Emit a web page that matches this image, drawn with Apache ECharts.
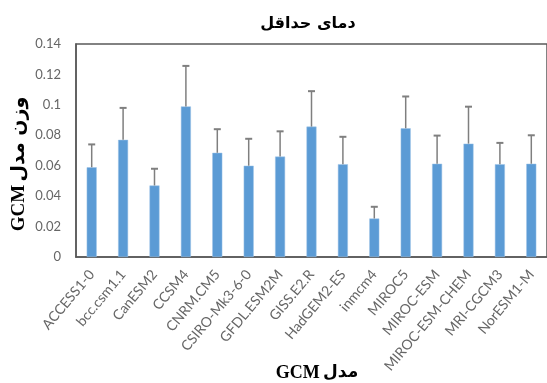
<!DOCTYPE html>
<html><head><meta charset="utf-8">
<script src="https://cdn.jsdelivr.net/npm/echarts@6/dist/echarts.min.js"></script>
<style>html,body{margin:0;padding:0;background:#fff}#c{width:547px;height:383px}</style>
</head><body><div id="c"></div>
<script>
const categories = ['ACCESS1-0','bcc.csm1.1','CanESM2','CCSM4','CNRM.CM5','CSIRO-Mk3-6-0','GFDL.ESM2M','GISS.E2.R','HadGEM2-ES','inmcm4','MIROC5','MIROC-ESM','MIROC-ESM-CHEM','MRI-CGCM3','NorESM1-M'];
const weights = [0.059,0.077,0.047,0.099,0.0685,0.060,0.066,0.0857,0.061,0.0253,0.0846,0.0613,0.0745,0.061,0.0613];
const errors = [0.015,0.021,0.011,0.0266,0.0155,0.0177,0.0166,0.0233,0.018,0.0077,0.0209,0.0185,0.0243,0.014,0.0187];
const yTicks = [0,0.02,0.04,0.06,0.08,0.1,0.12,0.14];
const titleText = 'دمای حداقل';
const yName = ['GCM','وزن مدل'];
const xName = ['GCM','مدل'];

const chart = echarts.init(document.getElementById('c'));
const errData = weights.map((v,i)=>[i, v, v+errors[i]]);
const richY = {s:{fontFamily:'Liberation Serif',fontWeight:'bold',fontSize:19,color:'#000'},p:{fontFamily:'DejaVu Sans',fontWeight:'bold',fontSize:19,color:'#000'}};
const richX = {s:{fontFamily:'Liberation Serif',fontWeight:'bold',fontSize:18,color:'#000'},p:{fontFamily:'DejaVu Sans',fontWeight:'bold',fontSize:17,color:'#000'}};
chart.setOption({
  animation:false,
  title:{text:titleText,left:303,top:11,textAlign:'center',textStyle:{fontFamily:'DejaVu Sans',fontWeight:'bold',fontSize:16,color:'#000'}},
  grid:{left:76,top:44,right:0,bottom:126,show:true,borderColor:'#595959',borderWidth:1.5,backgroundColor:'transparent'},
  graphic:[
    {type:'text',x:19,y:164,rotation:Math.PI/2,style:{text:'{s|'+yName[0]+'} {p|'+yName[1]+'}',rich:richY,align:'center',verticalAlign:'middle'}},
    {type:'text',x:317,y:373,style:{text:'{s|'+xName[0]+'} {p|'+xName[1]+'}',rich:richX,align:'center',verticalAlign:'middle'}}
  ],
  xAxis:{type:'category',data:categories,
    axisLine:{lineStyle:{color:'#595959',width:1.5}},axisTick:{show:false},
    axisLabel:{rotate:50,interval:0,color:'#666',fontSize:14,fontFamily:'Lato',margin:15}},
  yAxis:{type:'value',min:yTicks[0],max:yTicks[yTicks.length-1],interval:0.02,
    axisLine:{show:true,lineStyle:{color:'#595959',width:1.5}},axisTick:{show:false},splitLine:{show:false},
    axisLabel:{color:'#666',fontSize:13,fontFamily:'Lato',margin:15}},
  series:[
    {type:'bar',data:weights,barWidth:10,itemStyle:{color:'#5b9bd5',borderColor:'#9dc3e6',borderWidth:0.5}},
    {type:'custom',data:errData,z:3,
     renderItem:function(params,api){
       const x=api.value(0);
       const p0=api.coord([x,api.value(1)]);
       const p1=api.coord([x,api.value(2)]);
       const st={stroke:'#7f7f7f',lineWidth:1.5};
       return {type:'group',children:[
         {type:'line',shape:{x1:p0[0],y1:p0[1],x2:p1[0],y2:p1[1]},style:st},
         {type:'line',shape:{x1:p1[0]-3.5,y1:p1[1],x2:p1[0]+3.5,y2:p1[1]},style:{stroke:'#7f7f7f',lineWidth:2}}
       ]};
     }}
  ]
});
</script></body></html>
